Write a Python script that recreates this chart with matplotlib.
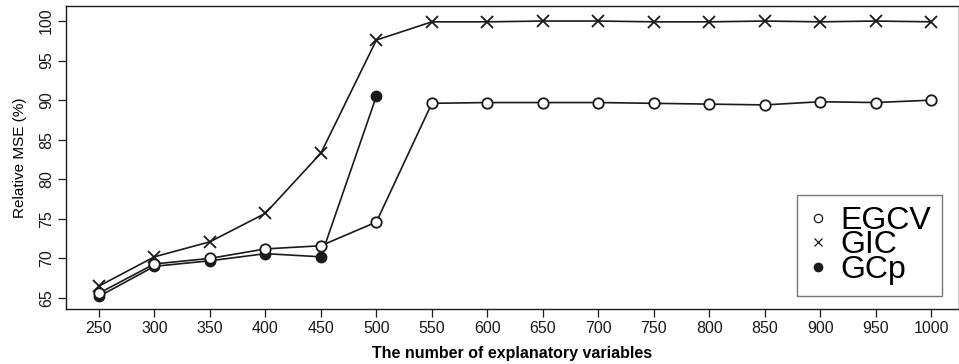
import matplotlib
matplotlib.use("Agg")
import matplotlib.pyplot as plt
from matplotlib.lines import Line2D

plt.rcParams['font.family'] = ['Liberation Sans', 'DejaVu Sans']

# Number of explanatory variables
n_vars = [250, 300, 350, 400, 450, 500, 550, 600, 650, 700, 750, 800, 850, 900, 950, 1000]

# Relative MSE (%) for each selection criterion
egcv = [65.6, 69.3, 70.0, 71.2, 71.6, 74.6, 89.6, 89.7, 89.7, 89.7, 89.6, 89.5, 89.4, 89.8, 89.7, 90.0]
gic = [66.5, 70.2, 72.1, 75.7, 83.3, 97.6, 99.9, 99.9, 100.0, 100.0, 99.9, 99.9, 100.0, 99.9, 100.0, 99.9]
gcp_n = [250, 300, 350, 400, 450, 500]
gcp = [65.2, 69.0, 69.7, 70.6, 70.2, 90.5]

ink = '#1a1a1a'

fig = plt.figure(figsize=(9.59, 3.64), dpi=100)
ax = fig.add_axes([0.0688, 0.151, 0.9312, 0.8325])

ax.plot(n_vars, gic, color=ink, lw=1.2, marker='x', ms=8, mew=1.3, zorder=3)
ax.plot(gcp_n, gcp, color=ink, lw=1.2, marker='o', ms=7.5, mfc=ink, mec=ink, zorder=4)
ax.plot(n_vars, egcv, color=ink, lw=1.2, marker='o', ms=7.5, mfc='white', mec=ink, mew=1.3, zorder=5)

ax.set_xlim(220.3, 1025)
ax.set_ylim(63.6, 101.9)
ax.set_xticks(n_vars)
ax.set_yticks(range(65, 101, 5))
ax.tick_params(direction='out', length=5.5, width=0.9, labelsize=11.5, colors=ink, pad=3)
for lbl in ax.get_yticklabels():
    lbl.set_rotation(90)
    lbl.set_va('center')
for side in ['left', 'bottom', 'top', 'right']:
    ax.spines[side].set_color(ink)
    ax.spines[side].set_linewidth(1.0)

ax.set_xlabel('The number of explanatory variables', fontsize=11.5, fontweight='bold', labelpad=7)
ax.set_ylabel('Relative MSE (%)', fontsize=11, labelpad=9)

# legend shows markers only, no connecting lines
handles = [
    Line2D([], [], ls='none', marker='o', ms=6, mfc='white', mec=ink, mew=0.9),
    Line2D([], [], ls='none', marker='x', ms=6, mec=ink, mew=0.9),
    Line2D([], [], ls='none', marker='o', ms=6, mfc=ink, mec=ink),
]
leg = ax.legend(handles, ['EGCV', 'GIC', 'GCp'], loc='upper left',
                bbox_to_anchor=(797 / 959, 1 - 195 / 364), bbox_transform=fig.transFigure,
                fontsize=23, frameon=True, fancybox=False, labelspacing=-0.18,
                handlelength=0.6, handletextpad=0.4, borderpad=0.35, borderaxespad=0)
leg.get_frame().set_edgecolor('#555555')
leg.get_frame().set_linewidth(1.0)

fig.savefig('out.png', dpi=100)
